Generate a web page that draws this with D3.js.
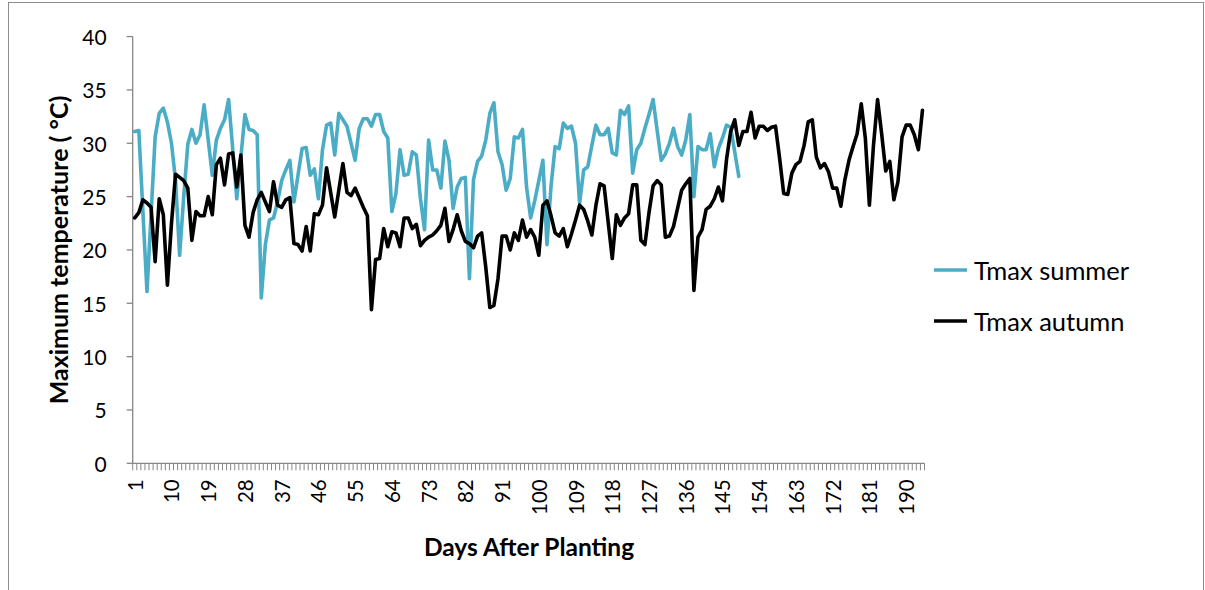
<!DOCTYPE html>
<html>
<head>
<meta charset="utf-8">
<script src="https://cdn.jsdelivr.net/npm/d3@7/dist/d3.min.js"></script>
<style>
  html, body { margin: 0; padding: 0; background: #fff; }
  svg { display: block; }
  text { font-family: Lato, "Liberation Sans", sans-serif; fill: #000; }
</style>
</head>
<body>
<svg id="chart" width="1205" height="590"></svg>
<script>
// Days after planting (categories 1..194)
const days = d3.range(1, 195);

// Daily maximum temperature (°C), summer planting
const tmaxSummer = [
  31.1, 31.2, 23.6, 16.1, 23.3, 30.6, 32.8, 33.3, 32.0, 30.0,
  26.5, 19.5, 25.0, 29.9, 31.3, 30.0, 30.8, 33.6, 30.3, 27.0,
  30.3, 31.4, 32.2, 34.1, 29.5, 24.8, 28.7, 32.7, 31.3, 31.2,
  30.8, 15.5, 20.5, 22.8, 23.0, 24.5, 26.5, 27.5, 28.4, 24.5,
  27.0, 29.5, 29.6, 27.0, 27.6, 24.8, 29.4, 31.7, 31.9, 28.9,
  32.8, 32.2, 31.6, 30.0, 28.4, 31.4, 32.3, 32.3, 31.6, 32.7,
  32.7, 31.1, 30.5, 23.6, 25.3, 29.4, 27.0, 27.1, 29.2, 28.9,
  24.8, 21.9, 30.3, 27.5, 27.5, 25.8, 30.2, 28.4, 23.9, 25.9,
  26.7, 26.8, 17.3, 26.6, 28.3, 28.8, 30.3, 32.8, 33.8, 29.2,
  28.0, 25.6, 26.7, 30.6, 30.5, 31.3, 25.9, 23.0, 24.6, 26.5,
  28.4, 20.5, 26.0, 29.7, 29.5, 31.9, 31.4, 31.6, 30.0, 24.4,
  27.5, 27.8, 29.8, 31.7, 30.8, 30.8, 31.4, 29.1, 28.9, 33.1,
  32.7, 33.5, 27.2, 29.4, 30.0, 31.4, 32.7, 34.1, 31.2, 28.4,
  29.0, 30.0, 31.4, 29.7, 28.9, 30.3, 32.7, 25.0, 29.7, 29.4,
  29.4, 30.9, 27.8, 29.5, 30.5, 31.7, 31.5, 29.2, 26.9
];

// Daily maximum temperature (°C), autumn planting
const tmaxAutumn = [
  23.0, 23.5, 24.7, 24.4, 24.0, 18.9, 24.8, 23.3, 16.7, 22.5,
  27.1, 26.8, 26.5, 25.8, 20.9, 23.6, 23.2, 23.2, 25.0, 23.3,
  28.0, 28.6, 26.1, 29.0, 29.1, 25.9, 28.9, 22.3, 21.2, 23.5,
  24.7, 25.4, 24.5, 23.6, 26.4, 24.2, 24.0, 24.7, 24.9, 20.6,
  20.5, 19.9, 22.2, 19.9, 23.4, 23.3, 24.2, 27.7, 25.4, 23.1,
  25.6, 28.1, 25.4, 25.1, 25.8, 24.9, 24.0, 23.2, 14.4, 19.1,
  19.2, 22.0, 20.3, 21.7, 21.6, 20.3, 23.0, 23.0, 22.0, 22.4,
  20.4, 20.9, 21.2, 21.4, 21.8, 22.3, 23.9, 20.8, 21.9, 23.3,
  21.8, 20.8, 20.6, 20.2, 21.3, 21.6, 18.4, 14.6, 14.8, 17.3,
  21.3, 21.3, 20.0, 21.6, 20.9, 22.8, 21.2, 21.9, 21.2, 19.5,
  24.2, 24.6, 23.2, 21.6, 21.3, 22.0, 20.3, 21.5, 22.8, 24.2,
  23.8, 22.7, 21.4, 24.2, 26.2, 26.0, 22.6, 19.2, 23.3, 22.3,
  23.0, 23.4, 26.1, 26.1, 20.9, 20.5, 23.5, 26.0, 26.5, 26.1,
  21.2, 21.3, 22.2, 23.9, 25.6, 26.2, 26.7, 16.2, 21.2, 21.9,
  23.8, 24.1, 24.8, 25.9, 24.6, 28.5, 31.1, 32.2, 29.8, 31.1,
  31.1, 32.9, 30.5, 31.6, 31.6, 31.2, 31.5, 31.6, 28.6, 25.3,
  25.2, 27.2, 28.0, 28.3, 29.8, 32.0, 32.2, 28.7, 27.7, 28.1,
  27.3, 25.8, 25.8, 24.1, 26.6, 28.4, 29.7, 30.9, 33.7, 30.5,
  24.2, 29.8, 34.1, 30.9, 27.4, 28.3, 24.7, 26.4, 30.6, 31.7,
  31.7, 30.8, 29.4, 33.1
];

// Axis labels
const xTickLabels = [1, 10, 19, 28, 37, 46, 55, 64, 73, 82, 91, 100, 109, 118, 127, 136, 145, 154, 163, 172, 181, 190];
const yTicks = [0, 5, 10, 15, 20, 25, 30, 35, 40];

const seriesNames = ["Tmax summer", "Tmax autumn"];
const seriesColors = ["#4bacc6", "#000000"];

const svg = d3.select("#chart");
const axisGrey = "#868686";

// outer chart frame
svg.append("rect")
  .attr("x", 8.5).attr("y", 2.5)
  .attr("width", 1195).attr("height", 620)
  .attr("fill", "none").attr("stroke", "#8c8c8c").attr("stroke-width", 1);

const plotLeft = 132.7, plotRight = 924.5, plotTop = 36.6, plotBottom = 463.3;

const x = d3.scaleBand().domain(days).range([plotLeft, plotRight]).padding(0);
const y = d3.scaleLinear().domain([0, 40]).range([plotBottom, plotTop]);
const cx = d => x(d) + x.bandwidth() / 2;

// y axis
const yAxis = svg.append("g");
yAxis.append("line")
  .attr("x1", plotLeft).attr("x2", plotLeft)
  .attr("y1", y(40)).attr("y2", y(0))
  .attr("stroke", axisGrey).attr("stroke-width", 1.3);
yAxis.selectAll(".yt").data(yTicks).join("line")
  .attr("x1", plotLeft - 6).attr("x2", plotLeft)
  .attr("y1", d => y(d)).attr("y2", d => y(d))
  .attr("stroke", axisGrey).attr("stroke-width", 1.3);
yAxis.selectAll(".yl").data(yTicks).join("text")
  .attr("x", plotLeft - 26).attr("y", d => y(d))
  .attr("text-anchor", "end").attr("dominant-baseline", "central")
  .attr("font-size", 21)
  .text(d => d);

// x axis
const xAxis = svg.append("g");
xAxis.append("line")
  .attr("x1", plotLeft).attr("x2", plotRight)
  .attr("y1", plotBottom).attr("y2", plotBottom)
  .attr("stroke", axisGrey).attr("stroke-width", 1.3);
const tickPos = days.map(d => x(d)).concat([plotRight]);
xAxis.selectAll(".xt").data(tickPos).join("line")
  .attr("x1", d => d).attr("x2", d => d)
  .attr("y1", plotBottom).attr("y2", plotBottom + 7)
  .attr("stroke", axisGrey).attr("stroke-width", 1);
xAxis.selectAll(".xl").data(xTickLabels).join("text")
  .attr("transform", d => `translate(${cx(d)},${plotBottom + 16}) rotate(-90)`)
  .attr("text-anchor", "end").attr("dominant-baseline", "central")
  .attr("font-size", 20.5)
  .text(d => d);

// series lines
const line = d3.line().x((v, i) => cx(days[i])).y(v => y(v));
[tmaxSummer, tmaxAutumn].forEach((vals, k) => {
  svg.append("path")
    .attr("d", line(vals))
    .attr("fill", "none")
    .attr("stroke", seriesColors[k])
    .attr("stroke-width", 3.6)
    .attr("stroke-linejoin", "round")
    .attr("stroke-linecap", "round");
});

// axis titles
svg.append("text")
  .attr("transform", `translate(58,250) rotate(-90)`)
  .attr("text-anchor", "middle").attr("dominant-baseline", "central")
  .attr("font-size", 25).attr("font-weight", "bold")
  .text("Maximum temperature ( °C)");
svg.append("text")
  .attr("x", 529).attr("y", 546)
  .attr("text-anchor", "middle").attr("dominant-baseline", "central")
  .attr("font-size", 24.5).attr("font-weight", "bold")
  .text("Days After Planting");

// legend
const legend = svg.append("g");
const legendY = [270, 321];
seriesNames.forEach((name, k) => {
  legend.append("line")
    .attr("x1", 934).attr("x2", 967)
    .attr("y1", legendY[k]).attr("y2", legendY[k])
    .attr("stroke", seriesColors[k]).attr("stroke-width", 3.6);
  legend.append("text")
    .attr("x", 974).attr("y", legendY[k])
    .attr("dominant-baseline", "central")
    .attr("font-size", 25.5)
    .text(name);
});
</script>
</body>
</html>
